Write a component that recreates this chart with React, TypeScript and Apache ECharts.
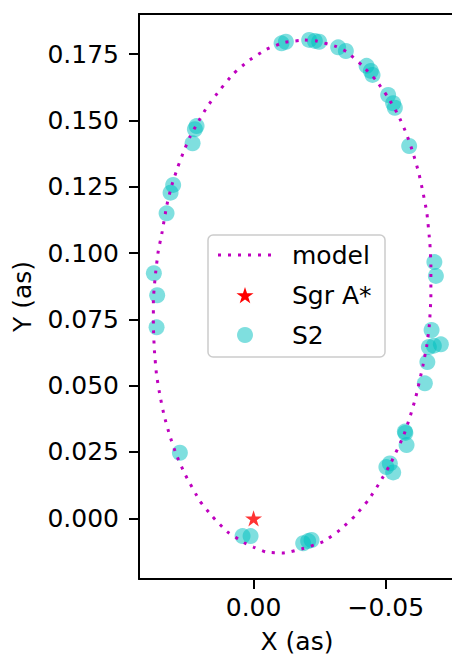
import React, { useEffect, useRef } from "react";
import * as echarts from "echarts";

// S2 observed positions (arcsec)
const S2_X = [
  -0.01058, -0.01221, -0.02101, -0.02317, -0.02479, -0.03197, -0.03488, -0.04271, -0.04433, -0.04497,
  -0.05087, -0.05276, -0.0534, -0.05881, 0.02154, 0.02218, 0.02305, 0.03039, 0.03137, 0.03288,
  0.03768, 0.03643, 0.03666, -0.06833, -0.0689, -0.06727, -0.06625, -0.06814, -0.07079, -0.06568,
  -0.06474, -0.05718, -0.05737, -0.05782, -0.05019, -0.05151, -0.05276, 0.02785, 0.00416, 0.00113,
  -0.01875, -0.02064, -0.02192,
];
const S2_Y = [
  0.1791, 0.1797, 0.1804, 0.18, 0.1797, 0.1776, 0.1762, 0.1706, 0.1687, 0.1672,
  0.1596, 0.1565, 0.1548, 0.1404, 0.1479, 0.1467, 0.1414, 0.1257, 0.1228, 0.115,
  0.0924, 0.0841, 0.072, 0.0966, 0.0914, 0.071, 0.0646, 0.0651, 0.0656, 0.0589,
  0.0509, 0.0327, 0.0322, 0.0276, 0.0193, 0.0207, 0.0173, 0.0247, -0.0067, -0.0067,
  -0.0094, -0.0086, -0.0082,
];

// model orbit
const MODEL_X = [
  -0.01939, -0.02343, -0.03137, -0.03515, -0.04082, -0.04622, -0.05064, -0.05465, -0.05782, -0.06032,
  -0.06247, -0.0641, -0.0655, -0.06663, -0.06701, -0.06701, -0.06644, -0.0655, -0.06398, -0.06134,
  -0.05907, -0.05654, -0.05151, -0.04773, -0.04331, -0.03828, -0.03262, -0.0263, -0.01901, -0.01119,
  -0.00465, -0.00011, 0.00355, 0.00998, 0.0155, 0.02029, 0.02596, 0.0291, 0.03163, 0.03379,
  0.03541, 0.03666, 0.03749, 0.03787, 0.03787, 0.03704, 0.03605, 0.03454, 0.03277, 0.03088,
  0.02861, 0.02634, 0.02407, 0.02154, 0.01754, 0.01274, 0.00771, 0.00204, -0.00491, -0.01183,
  -0.01939,
];
const MODEL_Y = [
  0.18035, 0.18009, 0.17783, 0.17594, 0.17093, 0.16527, 0.15897, 0.15207, 0.14491, 0.13763,
  0.13009, 0.12255, 0.11512, 0.1037, 0.09551, 0.08356, 0.07289, 0.06535, 0.05743, 0.04585,
  0.03808, 0.03077, 0.0201, 0.01357, 0.00679, 0.00087, -0.00441, -0.00882, -0.01131, -0.01308,
  -0.01271, -0.01094, -0.0092, -0.00505, 0.0006, 0.00652, 0.0167, 0.02376, 0.03103, 0.03869,
  0.04649, 0.05403, 0.06346, 0.07289, 0.08232, 0.09238, 0.10053, 0.10807, 0.11814, 0.12568,
  0.13247, 0.1385, 0.14378, 0.14842, 0.1552, 0.1615, 0.16753, 0.17243, 0.17685, 0.17949,
  0.18035,
];

const SGR_X = [0.0];
const SGR_Y = [0.0];

const X_TICKS = [0.0, -0.05];
const Y_TICKS = [0.0, 0.025, 0.05, 0.075, 0.1, 0.125, 0.15, 0.175];

const LEGEND_LABELS = ["model", "Sgr A*", "S2"];

const FONT = "DejaVu Sans";
const MAGENTA = "#bf00bf";
const CYAN = "#00bfbf";

const X_MIN = -0.07613;
const X_MAX = 0.0433;

function starPath(): string {
  const pts: string[] = [];
  for (let i = 0; i < 10; i++) {
    const r = i % 2 === 0 ? 1 : 0.382;
    const a = (-90 + i * 36) * (Math.PI / 180);
    pts.push(`${(r * Math.cos(a)).toFixed(4)} ${(r * Math.sin(a)).toFixed(4)}`);
  }
  return "M" + pts.join(" L") + " Z";
}

function starPoints(cx: number, cy: number, R: number): number[][] {
  const pts: number[][] = [];
  for (let i = 0; i < 10; i++) {
    const r = i % 2 === 0 ? R : R * 0.382;
    const a = (-90 + i * 36) * (Math.PI / 180);
    pts.push([cx + r * Math.cos(a), cy + r * Math.sin(a)]);
  }
  return pts;
}

export default function App() {
  const ref = useRef<HTMLDivElement>(null);
  useEffect(() => {
    if (!ref.current) return;
    const chart = echarts.init(ref.current, null, { renderer: "svg" });
    const s2 = S2_X.map((x, i) => [x, S2_Y[i]]);
    const model = MODEL_X.map((x, i) => [x, MODEL_Y[i]]);
    const sgr = SGR_X.map((x, i) => [x, SGR_Y[i]]);

    const lx = 208, ly = 235, lw = 177, lh = 122;
    const rows = [255, 295, 335];
    const iconX = 245;
    const textX = 292;

    chart.setOption({
      animation: false,
      backgroundColor: "#ffffff",
      textStyle: { fontFamily: FONT },
      grid: {
        left: 139,
        top: 14,
        width: 316,
        height: 565,
        show: false,
        containLabel: false,
        outerBoundsMode: "none",
      },
      xAxis: [
        {
          type: "value",
          inverse: true,
          min: X_MIN,
          max: X_MAX,
          name: "X (as)",
          nameLocation: "middle",
          nameGap: 50,
          nameTextStyle: { fontSize: 25, color: "#000", fontFamily: FONT },
          axisLine: { show: true, onZero: false, lineStyle: { color: "#000", width: 2 } },
          axisTick: { show: true, length: 10, inside: false, customValues: X_TICKS, lineStyle: { color: "#000", width: 2 } },
          axisLabel: {
            customValues: X_TICKS,
            margin: 16,
            fontSize: 25,
            color: "#000",
            fontFamily: FONT,
            formatter: (v: number) => (Math.abs(v) < 1e-9 ? "0.00" : (v < 0 ? "\u2212" : "") + Math.abs(v).toFixed(2)),
          },
          splitLine: { show: false },
        },
        {
          type: "value",
          position: "top",
          inverse: true,
          min: X_MIN,
          max: X_MAX,
          axisLine: { show: true, onZero: false, lineStyle: { color: "#000", width: 2 } },
          axisTick: { show: false },
          axisLabel: { show: false },
          splitLine: { show: false },
        },
      ],
      yAxis: {
        type: "value",
        min: -0.02289,
        max: 0.19016,
        name: "Y (as)",
        nameLocation: "middle",
        nameGap: 104,
        nameTextStyle: { fontSize: 25, color: "#000", fontFamily: FONT },
        axisLine: { show: true, onZero: false, lineStyle: { color: "#000", width: 2 } },
        axisTick: { show: true, length: 10, inside: false, customValues: Y_TICKS, lineStyle: { color: "#000", width: 2 } },
        axisLabel: {
          customValues: Y_TICKS,
          margin: 20,
          fontSize: 25,
          color: "#000",
          fontFamily: FONT,
          formatter: (v: number) => v.toFixed(3),
        },
        splitLine: { show: false },
      },
      series: [
        {
          name: "S2",
          type: "scatter",
          data: s2,
          symbol: "circle",
          symbolSize: 16,
          itemStyle: { color: CYAN, opacity: 0.5 },
          z: 2,
        },
        {
          name: "model",
          type: "line",
          data: model,
          symbol: "none",
          smooth: 0.15,
          lineStyle: { color: MAGENTA, width: 3, type: [3, 7], cap: "butt" },
          z: 3,
        },
        {
          name: "Sgr A*",
          type: "scatter",
          data: sgr,
          symbol: "path://" + starPath(),
          symbolKeepAspect: true,
          symbolSize: 17,
          itemStyle: { color: "#ff0000" },
          z: 4,
        },
      ],
      graphic: [
        {
          type: "rect",
          shape: { x: lx, y: ly, width: lw, height: lh, r: 5 },
          style: { fill: "rgba(255,255,255,0.8)", stroke: "#cccccc", lineWidth: 1.5 },
          z: 100,
        },
        {
          type: "line",
          shape: { x1: 218, y1: rows[0], x2: 272, y2: rows[0] },
          style: { stroke: MAGENTA, lineWidth: 3, lineDash: [3, 7] },
          z: 101,
        },
        {
          type: "polygon",
          shape: { points: starPoints(iconX, rows[1] + 1, 9) },
          style: { fill: "#ff0000" },
          z: 101,
        },
        {
          type: "circle",
          shape: { cx: iconX, cy: rows[2], r: 8 },
          style: { fill: CYAN, opacity: 0.5 },
          z: 101,
        },
        ...LEGEND_LABELS.map((t, i) => ({
          type: "text",
          x: textX,
          y: rows[i],
          style: { text: t, fontSize: 25, fontFamily: FONT, fill: "#000", verticalAlign: "middle", align: "left" },
          z: 101,
        })),
      ],
    });
    return () => chart.dispose();
  }, []);
  return (
    <div
      ref={ref}
      style={{ position: "absolute", left: 0, top: 0, width: 452, height: 655, overflow: "hidden" }}
    />
  );
}
